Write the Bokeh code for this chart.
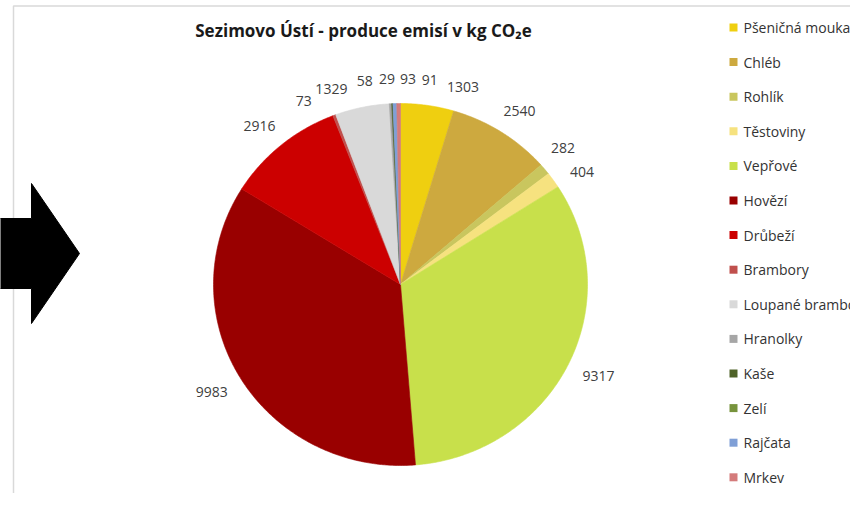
import numpy as np
from bokeh.plotting import figure
from bokeh.models import Range1d, Label
from bokeh.core.properties import value
from bokeh.embed import file_html
from bokeh.resources import INLINE

# ---------------- data ----------------
categories = ["Pšeničná mouka", "Chléb", "Rohlík", "Těstoviny", "Vepřové", "Hovězí",
              "Drůbeží", "Brambory", "Loupané brambory", "Hranolky", "Kaše", "Zelí",
              "Rajčata", "Mrkev", "Cibule"]
emissions = [1303, 2540, 282, 404, 9317, 9983, 2916, 73, 1329, 58, 29, 0, 93, 91, 0]
colors = ["#EFCF10", "#CDA93F", "#C9C65E", "#F6E27F", "#C8E04B", "#990000",
          "#CC0000", "#C0504D", "#D9D9D9", "#A6A6A6", "#4F6228", "#77933C",
          "#7F9FD6", "#D47B7B", "#C3D69B"]
title_text = "Sezimovo Ústí - produce emisí v kg CO₂e"

FONT = "Open Sans"
W, H = 850, 493

p = figure(width=W, height=H, x_range=Range1d(0, W), y_range=Range1d(H, 0),
           output_backend="svg", toolbar_location=None, min_border=0)
p.axis.visible = False
p.grid.visible = False
p.outline_line_color = None
p.background_fill_color = "white"
p.border_fill_color = "white"

# chart area border
p.line(x=[13, 13, W + 10], y=[H + 10, 5.5, 5.5], line_color="#D9D9D9", line_width=1.5)

# ---------------- pie (ellipse, clockwise from top) ----------------
cx, cy, rx, ry = 400.0, 284.0, 187.0, 181.0
vals = np.array(emissions, dtype=float)
total = vals.sum()
cum = np.cumsum(vals)
start = (cum - vals) / total * 360.0
end = cum / total * 360.0
mid = (start + end) / 2.0

xs, ys, fc = [], [], []
for i in range(len(vals)):
    if vals[i] <= 0:
        continue
    n = max(3, int((end[i] - start[i]) * 2) + 3)
    t = np.radians(np.linspace(start[i], end[i], n))
    xs.append([cx] + list(cx + rx * np.sin(t)))
    ys.append([cy] + list(cy - ry * np.cos(t)))
    fc.append(colors[i])
p.patches(xs=xs, ys=ys, fill_color=fc, line_color=fc, line_width=0.6)

# ---------------- data labels (spread to avoid overlap) ----------------
idx = [i for i in range(len(vals)) if vals[i] > 0]
ang = {i: ((mid[i] + 180.0) % 360.0) - 180.0 for i in idx}
txt = {i: str(int(vals[i])) for i in idx}
wid = {i: len(txt[i]) * 8.0 for i in idx}
HT, GAP, RL = 14.0, 4.0, 205.0


def need(a, b):
    tm = np.radians((ang[a] + ang[b]) / 2.0)
    d = ((wid[a] + wid[b]) / 2.0 * abs(np.cos(tm)) + HT * abs(np.sin(tm)) + GAP) / RL
    return np.degrees(d)


for _ in range(800):
    order = sorted(idx, key=lambda k: ang[k])
    moved = False
    for a, b in zip(order, order[1:]):
        d = ang[b] - ang[a]
        m = need(a, b)
        if d < m - 1e-4:
            push = (m - d) / 2.0
            ang[a] -= push
            ang[b] += push
            moved = True
    if not moved:
        break

pad = 18.0
lx, ly, lt = [], [], []
for i in idx:
    th = np.radians(ang[i])
    s, c = np.sin(th), np.cos(th)
    ax = cx + (rx + pad) * s
    ay = cy - (ry + pad) * c
    lx.append(ax + s * wid[i] / 2.0)
    ly.append(ay - c * HT / 2.0)
    lt.append(txt[i])
p.text(x=lx, y=ly, text=lt, text_align="center", text_baseline="middle",
       text_font=value(FONT), text_font_size="14px", text_color="#404040")

# ---------------- title ----------------
p.add_layout(Label(x=363, y=30, text=title_text, text_align="center",
                   text_baseline="middle", text_font=FONT, text_font_size="17px",
                   text_font_style="bold", text_color="#1a1a1a"))

# ---------------- legend (manual, from categories) ----------------
step = 34.6
leg_y = [27 + k * step for k in range(len(categories))]
p.scatter(x=[733] * len(categories), y=leg_y, marker="square", size=8,
          fill_color=colors, line_color=None)
p.text(x=[743] * len(categories), y=leg_y, text=categories, text_align="left",
       text_baseline="middle", text_font=value(FONT), text_font_size="14px",
       text_color="#333333")

# ---------------- arrow decoration ----------------
p.patch(x=[-2, 31, 31, 79, 31, 31, -2], y=[218, 218, 183, 253, 323, 288, 288],
        fill_color="black", line_color="black")

open("out.html", "w").write(file_html(p, INLINE))
